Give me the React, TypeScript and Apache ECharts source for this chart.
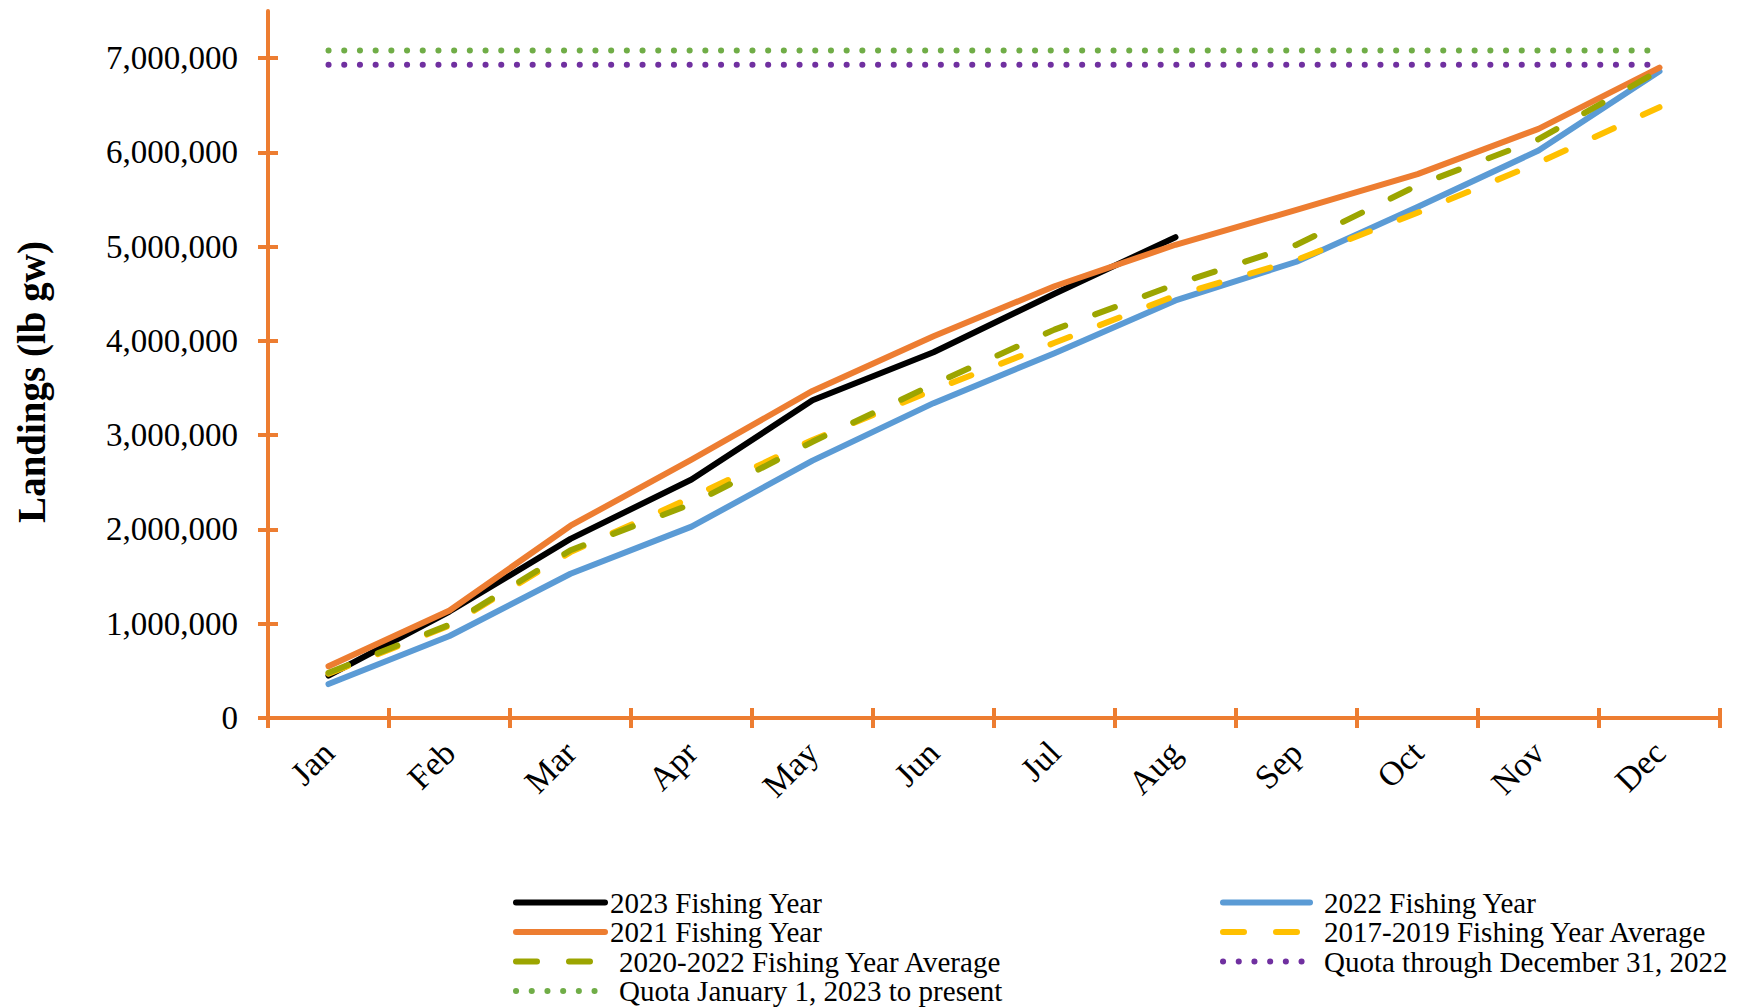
import React, { useEffect, useRef } from 'react';
import * as echarts from 'echarts';

const months = ['Jan', 'Feb', 'Mar', 'Apr', 'May', 'Jun', 'Jul', 'Aug', 'Sep', 'Oct', 'Nov', 'Dec'];

const fy2023 = [450000, 1130000, 1900000, 2530000, 3370000, 3880000, 4500000, 5100000, null, null, null, null];
const fy2022 = [360000, 870000, 1530000, 2030000, 2730000, 3340000, 3870000, 4430000, 4840000, 5420000, 6020000, 6860000];
const fy2021 = [550000, 1140000, 2040000, 2740000, 3470000, 4050000, 4580000, 5020000, 5390000, 5770000, 6250000, 6900000];
const avg2017to2019 = [470000, 980000, 1760000, 2340000, 2950000, 3480000, 3980000, 4480000, 4860000, 5360000, 5890000, 6480000];
const avg2020to2022 = [480000, 990000, 1780000, 2270000, 2930000, 3540000, 4120000, 4600000, 5020000, 5650000, 6140000, 6870000];
const quotaThrough2022 = [6930000, 6930000, 6930000, 6930000, 6930000, 6930000, 6930000, 6930000, 6930000, 6930000, 6930000, 6930000];
const quotaFrom2023 = [7080000, 7080000, 7080000, 7080000, 7080000, 7080000, 7080000, 7080000, 7080000, 7080000, 7080000, 7080000];

const yTickValues = [0, 1000000, 2000000, 3000000, 4000000, 5000000, 6000000, 7000000];

const NAMES = {
  fy2023: '2023 Fishing Year',
  fy2022: '2022 Fishing Year',
  fy2021: '2021 Fishing Year',
  avg1719: '2017-2019 Fishing Year Average',
  avg2022: '2020-2022 Fishing Year Average',
  q2022: 'Quota through December 31, 2022',
  q2023: 'Quota January 1, 2023 to present',
};

const FONT = "'Liberation Serif', 'Times New Roman', serif";
const AXIS_COLOR = '#ED7D31';
const LW = 6;
const LEGEND_FS = 29;
const LEGEND_LH = 28;

export default function App() {
  const ref = useRef<HTMLDivElement>(null);

  useEffect(() => {
    document.body.style.margin = '0';
    const chart = echarts.init(ref.current as HTMLDivElement, null, { renderer: 'svg' });

    const solid = (color: string) => ({ color, width: LW, type: 'solid', cap: 'round', join: 'round' });
    const dashed = (color: string) => ({ color, width: LW, type: [21, 32], cap: 'round', join: 'round' });
    const dotted = (color: string) => ({ color, width: LW, type: [0.1, 15.6], cap: 'round', join: 'round' });

    const mk = (name: string, data: (number | null)[], lineStyle: any) => ({
      name,
      type: 'line',
      data,
      symbol: 'none',
      showSymbol: false,
      lineStyle,
      itemStyle: { color: lineStyle.color },
      emphasis: { disabled: true },
      connectNulls: false,
    });

    const padNames = [NAMES.avg2022, NAMES.q2023];
    const mkLegendText = (pad: number) => ({
      fontFamily: FONT,
      fontSize: LEGEND_FS,
      color: '#000',
      lineHeight: LEGEND_LH,
      rich: {
        pad: { fontFamily: FONT, fontSize: LEGEND_FS, color: '#000', padding: [0, 0, 0, pad], lineHeight: LEGEND_LH },
      },
    });

    const legendCommon = {
      orient: 'vertical',
      top: 888,
      height: 160,
      padding: 0,
      itemGap: 0.5,
      itemHeight: 1,
      selectedMode: false,
      itemStyle: { opacity: 0, borderWidth: 0 },
      lineStyle: { width: LW, cap: 'round' },
    };

    const option: any = {
      animation: false,
      backgroundColor: '#fff',
      grid: { left: 268, right: 21, top: 11, bottom: 290, containLabel: false },
      xAxis: [
        {
          type: 'category',
          data: months,
          boundaryGap: true,
          position: 'bottom',
          axisLine: { show: true, lineStyle: { color: AXIS_COLOR, width: 4 } },
          axisTick: { show: true, inside: false, length: 10, lineStyle: { color: AXIS_COLOR, width: 4 } },
          axisLabel: { rotate: 45, margin: 29, color: '#000', fontFamily: FONT, fontSize: 34, interval: 0 },
          splitLine: { show: false },
        },
        {
          type: 'category',
          data: months,
          boundaryGap: true,
          position: 'bottom',
          axisLine: { show: false },
          axisTick: { show: true, inside: true, length: 10, lineStyle: { color: AXIS_COLOR, width: 4 } },
          axisLabel: { show: false },
          splitLine: { show: false },
        },
      ],
      yAxis: [
        {
          type: 'value',
          min: 0,
          max: 7500000,
          interval: 1000000,
          position: 'left',
          axisLine: { show: true, lineStyle: { color: AXIS_COLOR, width: 4 } },
          axisTick: { show: true, inside: false, length: 10, customValues: yTickValues, lineStyle: { color: AXIS_COLOR, width: 4 } },
          axisLabel: {
            customValues: yTickValues,
            margin: 30,
            color: '#000',
            fontFamily: FONT,
            fontSize: 33,
            formatter: (v: number) => v.toLocaleString('en-US'),
          },
          splitLine: { show: false },
        },
        {
          type: 'value',
          min: 0,
          max: 7500000,
          interval: 1000000,
          position: 'left',
          axisLine: { show: false },
          axisTick: { show: true, inside: true, length: 10, customValues: yTickValues, lineStyle: { color: AXIS_COLOR, width: 4 } },
          axisLabel: { show: false },
          splitLine: { show: false },
        },
      ],
      legend: [
        {
          ...legendCommon,
          left: 513,
          itemWidth: 89,
          data: [NAMES.fy2023, NAMES.fy2021, NAMES.avg2022, NAMES.q2023],
          textStyle: mkLegendText(9),
          formatter: (name: string) => (padNames.includes(name) ? `{pad|${name}}` : name),
        },
        {
          ...legendCommon,
          left: 1220,
          itemWidth: 87,
          data: [NAMES.fy2022, NAMES.avg1719, NAMES.q2022],
          textStyle: mkLegendText(9),
          formatter: (name: string) => `{pad|${name}}`,
        },
      ],
      graphic: [
        {
          type: 'text',
          x: 31,
          y: 382,
          rotation: Math.PI / 2,
          style: {
            text: 'Landings (lb gw)',
            fontFamily: FONT,
            fontWeight: 'bold',
            fontSize: 39,
            fill: '#000',
            align: 'center',
            verticalAlign: 'middle',
          },
        },
      ],
      series: [
        mk(NAMES.fy2023, fy2023, solid('#000000')),
        mk(NAMES.fy2022, fy2022, solid('#5B9BD5')),
        mk(NAMES.fy2021, fy2021, solid('#ED7D31')),
        mk(NAMES.avg1719, avg2017to2019, dashed('#FFC000')),
        mk(NAMES.avg2022, avg2020to2022, dashed('#9CA500')),
        mk(NAMES.q2022, quotaThrough2022, dotted('#7030A0')),
        mk(NAMES.q2023, quotaFrom2023, dotted('#70AD47')),
      ],
    };

    chart.setOption(option);
    return () => chart.dispose();
  }, []);

  return <div ref={ref} style={{ width: 1741, height: 1008 }} />;
}
